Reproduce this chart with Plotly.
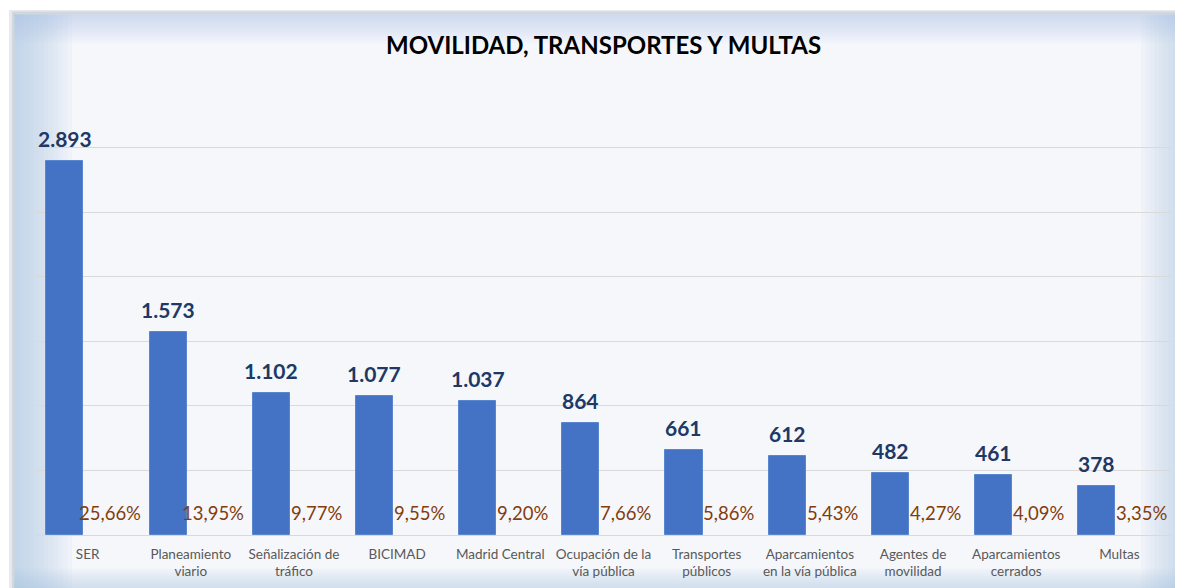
import plotly.graph_objects as go

categories = ["SER", "Planeamiento<br>viario", "Señalización de<br>tráfico", "BICIMAD",
              "Madrid Central", "Ocupación de la<br>vía pública", "Transportes<br>públicos",
              "Aparcamientos<br>en la vía pública", "Agentes de<br>movilidad",
              "Aparcamientos<br>cerrados", "Multas"]
values = [2893, 1573, 1102, 1077, 1037, 864, 661, 612, 482, 461, 378]
percentages = [25.66, 13.95, 9.77, 9.55, 9.20, 7.66, 5.86, 5.43, 4.27, 4.09, 3.35]
title_text = "MOVILIDAD, TRANSPORTES Y MULTAS"

OFF = 8  # page body margin
W, H = 1183 - OFF, 588 - OFF
FONT = "Lato, 'Open Sans', sans-serif"


def fmt_int(v):
    return f"{v:,}".replace(",", ".")


def fmt_pct(p):
    return f"{p:.2f}".replace(".", ",") + "%"


def px2x(px):
    return (px - OFF) / W


def px2y(py):
    return 1 - (py - OFF) / H


xs = list(range(len(categories)))

fig = go.Figure()
fig.add_trace(go.Bar(
    x=xs, y=values, width=0.36, offset=-0.40,
    marker=dict(color="#4472C4", line=dict(color="#5A86D0", width=1)),
    hoverinfo="skip", showlegend=False,
))

annotations = []
for i, (v, p) in enumerate(zip(values, percentages)):
    annotations.append(dict(
        x=i - 0.22, y=v, xref="x", yref="y", text=fmt_int(v), showarrow=False,
        yanchor="bottom", xanchor="center", yshift=8,
        font=dict(family=FONT, size=21, color="#203864", weight="bold"),
    ))
    annotations.append(dict(
        x=i + 0.215, y=0, xref="x", yref="y", text=fmt_pct(p), showarrow=False,
        yanchor="bottom", xanchor="center", yshift=9,
        font=dict(family=FONT, size=18.5, color="#843C0C"),
    ))
annotations.append(dict(
    x=px2x(603), y=px2y(45), xref="paper", yref="paper", text=title_text,
    showarrow=False, xanchor="center", yanchor="middle",
    font=dict(family=FONT, size=24, color="#000000", weight="bold"),
))

shapes = [
    dict(type="rect", xref="paper", yref="paper", x0=px2x(9), x1=px2x(1200),
         y0=px2y(600), y1=px2y(10), fillcolor="#E6E9EF", line=dict(width=0), layer="below"),
    dict(type="rect", xref="paper", yref="paper", x0=px2x(12), x1=px2x(1200),
         y0=px2y(600), y1=px2y(11.5), fillcolor="#D4D6DA", line=dict(width=0), layer="below"),
    dict(type="rect", xref="paper", yref="paper", x0=px2x(14.5), x1=px2x(1200),
         y0=px2y(600), y1=px2y(14.5), fillcolor="#F5F7FB", line=dict(width=0), layer="below"),
]
edge = "rgba(170,194,230,{a})"
N = 12
for k in range(1, N + 1):
    a = 0.065
    shapes.append(dict(type="rect", xref="paper", yref="paper", x0=px2x(14.5), x1=px2x(14.5 + 4.8 * k),
                       y0=px2y(600), y1=px2y(14.5), fillcolor=edge.format(a=a), line=dict(width=0), layer="below"))
    shapes.append(dict(type="rect", xref="paper", yref="paper", x0=px2x(1195 - 4.5 * k), x1=px2x(1200),
                       y0=px2y(600), y1=px2y(14.5), fillcolor=edge.format(a=a), line=dict(width=0), layer="below"))
    shapes.append(dict(type="rect", xref="paper", yref="paper", x0=px2x(14.5), x1=px2x(1200),
                       y0=px2y(14.5 + 2.4 * k), y1=px2y(14.5), fillcolor=edge.format(a=a * 0.8), line=dict(width=0), layer="below"))
    shapes.append(dict(type="rect", xref="paper", yref="paper", x0=px2x(14.5), x1=px2x(1200),
                       y0=px2y(600), y1=px2y(600 - 2.6 * k), fillcolor=edge.format(a=a), line=dict(width=0), layer="below"))

fig.update_layout(
    width=W, height=H,
    margin=dict(l=0, r=0, t=0, b=0),
    paper_bgcolor="#FFFFFF",
    plot_bgcolor="rgba(0,0,0,0)",
    annotations=annotations,
    shapes=shapes,
    bargap=0,
    xaxis=dict(
        domain=[px2x(36), px2x(1171)], range=[-0.5, len(categories) - 0.5],
        tickmode="array", tickvals=xs, ticktext=categories,
        showgrid=False, zeroline=False, showline=False, ticks="",
        ticklabelstandoff=9,
        tickfont=dict(family=FONT, size=13.5, color="#595959"),
        fixedrange=True,
    ),
    yaxis=dict(
        domain=[px2y(535), px2y(83)], range=[0, 3500], dtick=500,
        showgrid=True, gridcolor="#D9D9D9", gridwidth=1,
        zeroline=True, zerolinecolor="#D9D9D9", zerolinewidth=1,
        showticklabels=False, showline=False, ticks="", fixedrange=True,
    ),
)

fig.write_html("out.html")
